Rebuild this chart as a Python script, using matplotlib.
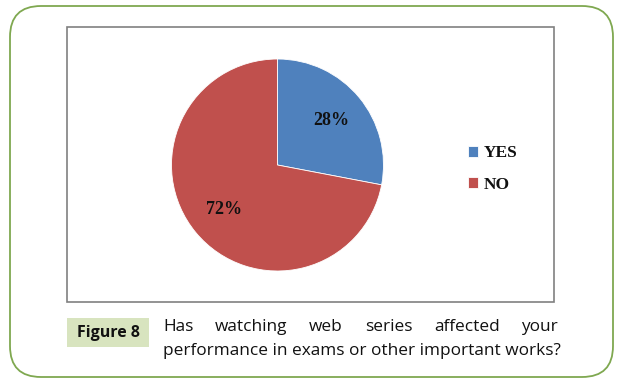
import matplotlib
matplotlib.use("Agg")
import matplotlib.pyplot as plt
from matplotlib.patches import FancyBboxPatch, Rectangle

labels = ["YES", "NO"]
values = [28, 72]
colors = ["#4f81bd", "#c0504d"]
caption_line1 = ["Has", "watching", "web", "series", "affected", "your"]
caption_line2 = "performance in exams or other important works?"
fig_label = "Figure 8"

W, H = 619, 384
fig = plt.figure(figsize=(W / 100, H / 100), dpi=100)
fig.patch.set_facecolor("white")

def fx(px):
    return px / W

def fy(py):
    return 1 - py / H

# outer rounded frame
frame = FancyBboxPatch((fx(10), fy(377)), fx(613) - fx(10), fy(6) - fy(377),
                       boxstyle="round,pad=0,rounding_size=0.05",
                       transform=fig.transFigure, fill=False,
                       edgecolor="#7fa850", linewidth=1.3,
                       mutation_aspect=W / H)
fig.patches.append(frame)

# inner chart box
inner = Rectangle((fx(67), fy(302)), fx(554) - fx(67), fy(27) - fy(302),
                  transform=fig.transFigure, fill=False,
                  edgecolor="#808080", linewidth=1.2)
fig.patches.append(inner)

# pie axes
cx, cy, r = 277.5, 165, 106
ax = fig.add_axes([fx(cx - r), fy(cy + r), 2 * r / W, 2 * r / H])
wedges, texts, autotexts = ax.pie(values, colors=colors, startangle=90,
                                  counterclock=False, autopct="%d%%",
                                  pctdistance=0.66,
                                  wedgeprops=dict(linewidth=0.6, edgecolor="white"),
                                  textprops=dict(family="Liberation Serif",
                                                 weight="bold", fontsize=13,
                                                 color="#111111"))
ax.set_xlim(-1, 1)
ax.set_ylim(-1, 1)
ax.set_aspect("auto")
ax.axis("off")

# legend
leg = fig.legend(wedges, labels, loc="center left",
                 bbox_to_anchor=(fx(452), fy(169)), frameon=False,
                 prop=dict(family="Liberation Serif", weight="bold", size=12.5),
                 handlelength=0.6, handleheight=0.6, handletextpad=0.3,
                 labelspacing=0.9)
for t in leg.get_texts():
    t.set_color("#111111")

# Figure 8 label box
lab_box = Rectangle((fx(67), fy(347)), fx(149) - fx(67), fy(318) - fy(347),
                    transform=fig.transFigure, facecolor="#d8e4bf",
                    edgecolor="none")
fig.patches.append(lab_box)
fig.text(fx(108), fy(333), fig_label, ha="center", va="center",
         family="Open Sans", weight="bold", fontsize=11.5, color="#111111")

# caption: justified first line
renderer = fig.canvas.get_renderer()
cap_font = dict(family="Open Sans", fontsize=12, color="#111111")
x0, x1 = 163, 558
t2 = fig.text(fx(x0), fy(351), caption_line2, ha="left", va="center", **cap_font)
bb = t2.get_window_extent(renderer)
scale = (x1 - x0) / bb.width
fs = 12 * scale
t2.set_fontsize(fs)
cap_font["fontsize"] = fs

widths = []
for w in caption_line1:
    t = fig.text(0, 0, w, **cap_font)
    widths.append(t.get_window_extent(renderer).width)
    t.remove()
gap = ((x1 - x0) - sum(widths)) / (len(caption_line1) - 1)
x = x0
for w, wd in zip(caption_line1, widths):
    fig.text(fx(x), fy(327), w, ha="left", va="center", **cap_font)
    x += wd + gap

fig.savefig("out.png", dpi=100, facecolor="white")
